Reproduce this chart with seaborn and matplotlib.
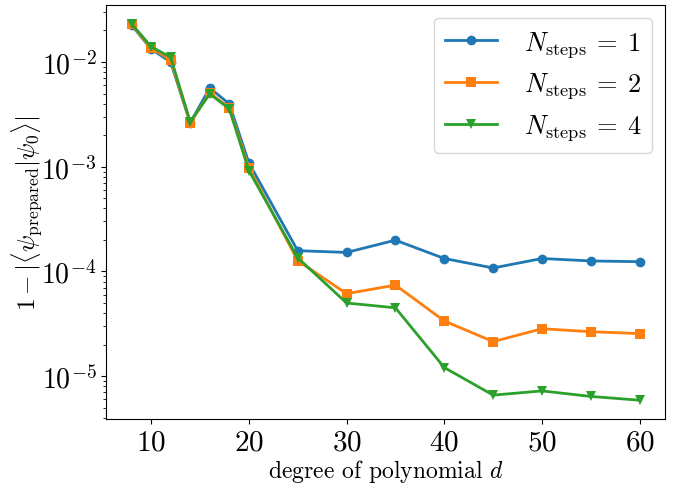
import numpy as np
import pandas as pd
import matplotlib
matplotlib.use("Agg")
import matplotlib.pyplot as plt
import seaborn as sns

plt.rcParams['font.family'] = 'serif'
plt.rcParams['font.serif'] = ['cmr10']
plt.rcParams['mathtext.fontset'] = 'cm'
plt.rcParams['axes.formatter.use_mathtext'] = True
plt.rcParams['axes.unicode_minus'] = False

degrees = [8, 10, 12, 14, 16, 18, 20, 25, 30, 35, 40, 45, 50, 55, 60]
err_n1 = [2.25e-2, 1.33e-2, 1.00e-2, 2.62e-3, 5.65e-3, 3.98e-3, 1.09e-3,
          1.58e-4, 1.52e-4, 1.99e-4, 1.33e-4, 1.08e-4, 1.33e-4, 1.26e-4, 1.24e-4]
err_n2 = [2.28e-2, 1.36e-2, 1.05e-2, 2.62e-3, 5.07e-3, 3.65e-3, 9.8e-4,
          1.27e-4, 6.14e-5, 7.41e-5, 3.37e-5, 2.14e-5, 2.84e-5, 2.66e-5, 2.55e-5]
err_n4 = [2.32e-2, 1.40e-2, 1.11e-2, 2.68e-3, 4.96e-3, 3.57e-3, 9.2e-4,
          1.35e-4, 5.0e-5, 4.5e-5, 1.21e-5, 6.6e-6, 7.24e-6, 6.41e-6, 5.9e-6]
series_labels = [r"$N_{\mathrm{steps}}\:=\:1$", r"$N_{\mathrm{steps}}\:=\:2$", r"$N_{\mathrm{steps}}\:=\:4$"]
markers = ['o', 's', 'v']
colors = ['#1f77b4', '#ff7f0e', '#2ca02c']

fig = plt.figure(figsize=(6.76, 4.89), dpi=100)
ax = fig.add_axes([0.157, 0.141, 0.827, 0.847])

for vals, lab, mk, c in zip([err_n1, err_n2, err_n4], series_labels, markers, colors):
    df = pd.DataFrame({"d": degrees, "err": vals})
    sns.lineplot(data=df, x="d", y="err", ax=ax, marker=mk, color=c, label=lab,
                 linewidth=2, markersize=7, markeredgewidth=0)

ax.set_yscale('log')
ax.set_xticks([10, 20, 30, 40, 50, 60])
ax.tick_params(axis='x', which='major', labelsize=21)
ax.tick_params(axis='y', which='major', labelsize=20)
ax.set_xlabel(r"degree of polynomial $d$", fontsize=17, labelpad=1)
ax.set_ylabel(r"$1 - |\langle \psi_{\mathrm{prepared}} | \psi_0 \rangle|$", fontsize=18)
ax.yaxis.set_label_coords(-0.11, 0.5)
ax.legend(loc='upper right', fontsize=19, handletextpad=1.0, labelspacing=0.45)

fig.savefig("out.png", dpi=100)
